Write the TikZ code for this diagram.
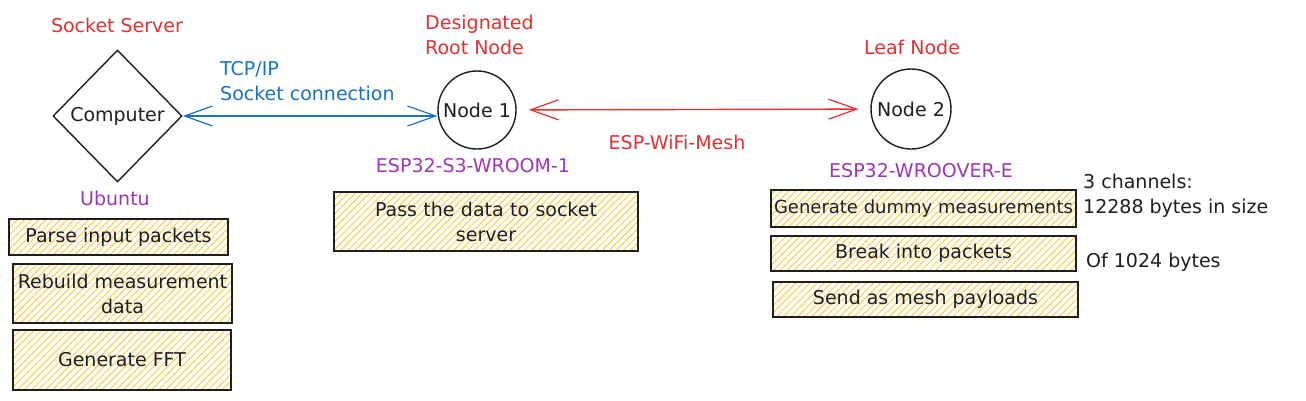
\documentclass[tikz,border=0pt]{standalone}
\usepackage{fontspec}
\setmainfont{DejaVu Sans}
\usetikzlibrary{shapes.geometric,arrows.meta,patterns.meta}
\definecolor{exred}{HTML}{E03131}
\definecolor{exblue}{HTML}{1971C2}
\definecolor{expurple}{HTML}{9C36B5}
\definecolor{ink}{HTML}{1E1E1E}
\definecolor{hatch}{HTML}{FFC947}
\begin{document}
\begin{tikzpicture}[x=1pt,y=-1pt,
  every node/.style={font=\fontsize{19}{25}\selectfont, inner sep=0pt, text=ink},
  taskbox/.style={draw=ink, line width=1.4pt, pattern={Lines[angle=45,distance=5pt,line width=1pt]}, pattern color=hatch, align=center},
  devnode/.style={circle, draw=ink, line width=1.4pt},
  conn/.style={line width=1.4pt, {Straight Barb[length=28pt,width=20pt,line width=1.2pt]}-{Straight Barb[length=28pt,width=20pt,line width=1.2pt]}}
]
\useasboundingbox (0,0) rectangle (1306,400);

% left: socket server
\node[text=exred] (ssrv) at (117,25) {Socket Server};
\node[diamond, draw=ink, line width=1.4pt, minimum width=129pt, minimum height=132pt] (comp) at (117.5,116) {Computer};
\node[text=expurple] (ubu) at (115,198) {Ubuntu};
\node[taskbox, minimum width=219pt, minimum height=36pt] (parse) at (118.5,237) {Parse input packets};
\node[taskbox, minimum width=219pt, minimum height=59pt] (rebuild) at (122.5,293.5) {Rebuild measurement\\data};
\node[taskbox, minimum width=218pt, minimum height=60pt] (fft) at (122,360) {Generate FFT};

% middle: root node
\node[text=exred, align=left, anchor=west] (rootlbl) at (425,34.5) {Designated\\Root Node};
\node[devnode, minimum size=78pt] (n1) at (477,110) {Node 1};
\node[text=expurple] (s3) at (473,166) {ESP32-S3-WROOM-1};
\node[taskbox, minimum width=304pt, minimum height=59pt, text width=290pt] (pass) at (486,221.5) {Pass the data to socket\\server};

% right: leaf node
\node[text=exred] (leaflbl) at (912,47) {Leaf Node};
\node[devnode, minimum size=80pt] (n2) at (911,109) {Node 2};
\node[text=expurple] (wrover) at (921,171) {ESP32-WROOVER-E};
\node[taskbox, minimum width=305pt, minimum height=37pt, font=\fontsize{18}{25}\selectfont] (gen) at (923.5,208.5) {Generate dummy measurements};
\node[taskbox, minimum width=305pt, minimum height=35pt] (brk) at (923.5,253.5) {Break into packets};
\node[taskbox, minimum width=305pt, minimum height=35pt] (send) at (925.5,299.5) {Send as mesh payloads};
\node[align=left, anchor=west] (chan) at (1083,196) {3 channels:\\12288 bytes in size};
\node[anchor=west] (pk) at (1086,262) {Of 1024 bytes};

% connectors
\draw[conn, exblue] (comp.east) -- (n1.west |- comp.east);
\node[text=exblue, align=left, anchor=west] (tcp) at (220,81) {TCP/IP\\Socket connection};
\draw[conn, exred, shorten <=12pt, shorten >=12pt] (n1) -- (n2);
\node[text=exred] (mesh) at (677,142) {ESP-WiFi-Mesh};
\end{tikzpicture}
\end{document}
